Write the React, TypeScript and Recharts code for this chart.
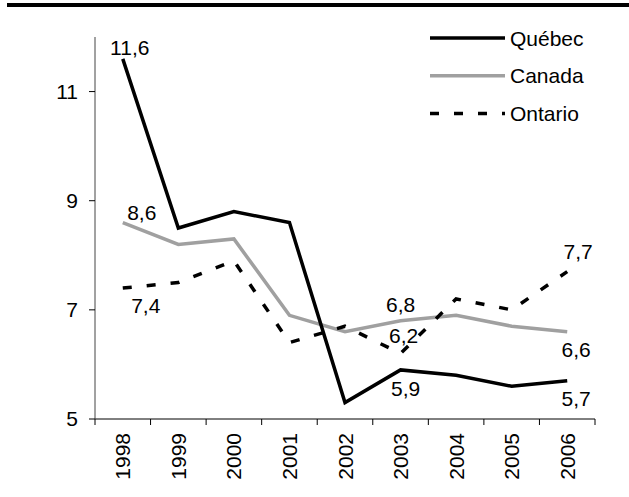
import { LineChart, Line, XAxis, YAxis, Legend, LabelList } from "recharts";

const years = ["1998", "1999", "2000", "2001", "2002", "2003", "2004", "2005", "2006"];
const quebec = [11.6, 8.5, 8.8, 8.6, 5.3, 5.9, 5.8, 5.6, 5.7];
const canada = [8.6, 8.2, 8.3, 6.9, 6.6, 6.8, 6.9, 6.7, 6.6];
const ontario = [7.4, 7.5, 7.9, 6.4, 6.7, 6.2, 7.2, 7.0, 7.7];
const yTicks = [5, 7, 9, 11];

const data = years.map((year, i) => ({
  year,
  quebec: quebec[i],
  canada: canada[i],
  ontario: ontario[i],
}));

const FONT = "'Liberation Sans', Arial, sans-serif";
const FS = 21;
const W = 629;
const H = 497;
const PLOT_LEFT = 95;
const PLOT_W = 500;
const HALF_STEP = PLOT_W / years.length / 2;
const DASH = "9 15";

// which points carry a value label, and where the label sits
const labelSpots: Record<string, Record<number, [number, number]>> = {
  quebec: { 0: [7, -11], 5: [5, 19], 8: [9, 18] },
  canada: { 0: [19, -10], 5: [0, -16], 8: [9, 18] },
  ontario: { 0: [23, 17], 5: [3, -18], 8: [11, -20] },
};

const fmt = (v: number) => String(v).replace(".", ",");

const makeLabel = (key: string) => (props: any) => {
  const spot = labelSpots[key][props.index];
  if (!spot) return null;
  return (
    <text
      x={props.x + spot[0]}
      y={props.y + spot[1]}
      textAnchor="middle"
      dominantBaseline="central"
      fontSize={FS}
      fontFamily={FONT}
      fill="#000"
    >
      {fmt(props.value)}
    </text>
  );
};

const YearTick = (props: any) => {
  const { x, y, payload, index } = props;
  const last = index === years.length - 1;
  return (
    <g>
      <line x1={x - HALF_STEP} y1={y} x2={x - HALF_STEP} y2={y + 6} stroke="#000" />
      {last && <line x1={x + HALF_STEP} y1={y} x2={x + HALF_STEP} y2={y + 6} stroke="#000" />}
      <text
        transform={`translate(${x},${y + 14}) rotate(-90)`}
        textAnchor="end"
        dominantBaseline="central"
        fontSize={FS}
        fontFamily={FONT}
        fill="#000"
      >
        {payload.value}
      </text>
    </g>
  );
};

const legendItems = [
  { name: "Québec", color: "#000", dash: undefined },
  { name: "Canada", color: "#a0a0a0", dash: undefined },
  { name: "Ontario", color: "#000", dash: DASH },
];

const LegendBox = () => (
  <svg width={190} height={110}>
    {legendItems.map((it, i) => (
      <g key={it.name} transform={`translate(0,${16 + i * 37.7})`}>
        <line x1={3} x2={78} y1={0} y2={0} stroke={it.color} strokeWidth={3.5} strokeDasharray={it.dash} />
        <text x={83} y={0} dominantBaseline="central" fontSize={FS} fontFamily={FONT} fill="#000">
          {it.name}
        </text>
      </g>
    ))}
  </svg>
);

export default function App() {
  return (
    <div style={{ position: "absolute", left: 0, top: 0, width: W, height: H, background: "#fff" }}>
      <div style={{ position: "absolute", left: 7, top: 3, width: W - 7, height: 4, background: "#000" }} />
      <LineChart width={W} height={H} data={data} margin={{ top: 37, right: W - PLOT_LEFT - PLOT_W, left: 0, bottom: 8 }}>
        <XAxis
          dataKey="year"
          height={70}
          interval={0}
          padding={{ left: HALF_STEP, right: HALF_STEP }}
          tickLine={false}
          tickSize={0}
          tickMargin={0}
          axisLine={{ stroke: "#000" }}
          tick={<YearTick />}
        />
        <YAxis
          width={PLOT_LEFT}
          domain={[5, 12]}
          ticks={yTicks}
          tickSize={6}
          tickMargin={11}
          axisLine={{ stroke: "#444" }}
          tickLine={{ stroke: "#000" }}
          tick={{ fontSize: FS, fontFamily: FONT, fill: "#000" }}
        />
        <Legend
          layout="vertical"
          align="center"
          verticalAlign="middle"
          wrapperStyle={{ position: "absolute", left: 427, top: 22, width: 190 }}
          content={<LegendBox />}
        />
        <Line dataKey="canada" stroke="#a0a0a0" strokeWidth={3.5} dot={false} isAnimationActive={false}>
          <LabelList dataKey="canada" content={makeLabel("canada")} />
        </Line>
        <Line dataKey="ontario" stroke="#000" strokeWidth={3.5} strokeDasharray={DASH} dot={false} isAnimationActive={false}>
          <LabelList dataKey="ontario" content={makeLabel("ontario")} />
        </Line>
        <Line dataKey="quebec" stroke="#000" strokeWidth={3.5} dot={false} isAnimationActive={false}>
          <LabelList dataKey="quebec" content={makeLabel("quebec")} />
        </Line>
      </LineChart>
    </div>
  );
}
